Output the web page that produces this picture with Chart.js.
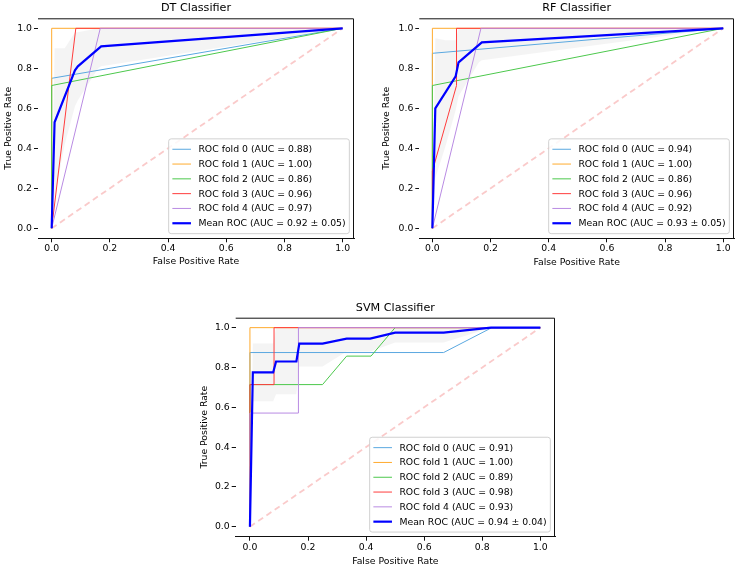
<!DOCTYPE html>
<html><head><meta charset="utf-8">
<script src="https://cdn.jsdelivr.net/npm/chart.js@4/dist/chart.umd.min.js"></script>
<style>
html,body{margin:0;padding:0;background:#fff;width:740px;height:574px;overflow:hidden}
.box{position:absolute}
canvas{display:block}
</style></head><body>
<div class="box" style="left:0px;top:0px;width:362px;height:272px"><canvas id="dt" width="362" height="272"></canvas></div>
<div class="box" style="left:374px;top:0px;width:366px;height:272px"><canvas id="rf" width="366" height="272"></canvas></div>
<div class="box" style="left:193px;top:296px;width:370px;height:278px"><canvas id="svm" width="370" height="278"></canvas></div>
<script>
// ---------------- DATA ----------------
const TICK_VALUES = [0, 0.2, 0.4, 0.6, 0.8, 1.0];
const TICK_LABELS = ['0.0', '0.2', '0.4', '0.6', '0.8', '1.0'];
const FOLD_NAMES = ['ROC fold 0', 'ROC fold 1', 'ROC fold 2', 'ROC fold 3', 'ROC fold 4'];
const CHANCE = [[0, 0], [1, 1]];

// DT Classifier
const DT_AUC = ['0.88', '1.00', '0.86', '0.96', '0.97'];
const DT_MEAN_AUC = '0.92 ± 0.05';
const DT_FOLD0 = [[0, 0], [0, 0.75], [1, 1]];
const DT_FOLD1 = [[0, 0], [0, 1], [1, 1]];
const DT_FOLD2 = [[0, 0], [0, 0.714], [1, 1]];
const DT_FOLD3 = [[0, 0], [0.083, 1], [1, 1]];
const DT_FOLD4 = [[0, 0], [0.167, 1], [1, 1]];
const DT_MEAN = [[0, 0], [0.01, 0.53], [0.08, 0.79], [0.09, 0.81], [0.17, 0.91], [1, 1]];
const DT_UPPER = [[0, 0], [0.01, 0.90], [0.045, 0.90], [0.08, 0.98], [0.09, 0.98], [0.16, 1], [1, 1]];
const DT_LOWER = [[0, 0], [0.01, 0.16], [0.045, 0.42], [0.08, 0.61], [0.09, 0.64], [0.16, 0.80], [0.17, 0.81], [1, 1]];

// RF Classifier
const RF_AUC = ['0.94', '1.00', '0.86', '0.96', '0.92'];
const RF_MEAN_AUC = '0.93 ± 0.05';
const RF_FOLD0 = [[0, 0], [0, 0.875], [1, 1]];
const RF_FOLD1 = [[0, 0], [0, 1], [1, 1]];
const RF_FOLD2 = [[0, 0], [0, 0.714], [1, 1]];
const RF_FOLD3 = [[0, 0], [0, 0.286], [0.083, 0.714], [0.083, 1], [1, 1]];
const RF_FOLD4 = [[0, 0], [0.167, 1], [1, 1]];
const RF_MEAN = [[0, 0], [0.01, 0.60], [0.08, 0.76], [0.09, 0.83], [0.17, 0.93], [1, 1]];
const RF_UPPER = [[0, 0], [0.01, 0.95], [0.045, 0.94], [0.08, 0.94], [0.09, 1], [1, 1]];
const RF_LOWER = [[0, 0], [0.01, 0.25], [0.045, 0.41], [0.08, 0.59], [0.09, 0.66], [0.16, 0.83], [0.17, 0.84], [1, 1]];

// SVM Classifier
const SVM_AUC = ['0.91', '1.00', '0.89', '0.98', '0.93'];
const SVM_MEAN_AUC = '0.94 ± 0.04';
const SVM_FOLD0 = [[0, 0], [0, 0.875], [0.667, 0.875], [0.833, 1], [1, 1]];
const SVM_FOLD1 = [[0, 0], [0, 1], [1, 1]];
const SVM_FOLD2 = [[0, 0], [0, 0.714], [0.25, 0.714], [0.333, 0.857], [0.417, 0.857], [0.5, 1], [1, 1]];
const SVM_FOLD3 = [[0, 0], [0, 0.714], [0.083, 0.714], [0.083, 1], [1, 1]];
const SVM_FOLD4 = [[0, 0], [0, 0.571], [0.167, 0.571], [0.167, 1], [1, 1]];
const SVM_MEAN = [[0, 0], [0.01, 0.775], [0.08, 0.775], [0.09, 0.83], [0.16, 0.83], [0.17, 0.92], [0.25, 0.92], [0.333, 0.945], [0.414, 0.945], [0.5, 0.975], [0.667, 0.975], [0.83, 1], [1, 1]];
const SVM_UPPER = [[0, 0], [0.01, 0.92], [0.08, 0.92], [0.09, 1], [1, 1]];
const SVM_LOWER = [[0, 0], [0.01, 0.63], [0.08, 0.63], [0.09, 0.665], [0.16, 0.665], [0.17, 0.805], [0.25, 0.805], [0.333, 0.88], [0.414, 0.88], [0.5, 0.925], [0.667, 0.925], [0.83, 1], [1, 1]];

// ---------------- STYLE ----------------
const FONT = '"DejaVu Sans", "Liberation Sans", sans-serif';
const TICK_SIZE = 9.3;
const TITLE_SIZE = 11.2;
const FOLD_COLORS = ['#5aa8e0', '#ffab2e', '#4cc84c', '#ff3c3c', '#b98be3'];
const MEAN_COLOR = '#0000ff';
const CHANCE_COLOR = 'rgba(240,90,90,0.32)';
const BAND_COLOR = 'rgba(128,128,128,0.085)';

Chart.defaults.font.family = FONT;
Chart.defaults.color = '#000';

const pts = a => a.map(([x, y]) => ({ x, y }));

const spinePlugin = {
  id: 'spines',
  afterDraw(chart) {
    const { ctx, chartArea: a } = chart;
    ctx.save();
    ctx.strokeStyle = '#111';
    ctx.lineWidth = 1;
    ctx.beginPath();
    ctx.moveTo(a.left, a.top + 0.5);
    ctx.lineTo(a.right - 0.5, a.top + 0.5);
    ctx.lineTo(a.right - 0.5, a.bottom);
    ctx.stroke();
    ctx.restore();
  }
};

const legendPlugin = {
  id: 'rocLegend',
  afterDraw(chart) {
    const { ctx, chartArea: a } = chart;
    const f = TICK_SIZE, rowH = 14.8, vpad = 3;
    const items = chart.data.datasets.filter(d => d.inLegend);
    ctx.save();
    ctx.font = f + 'px ' + FONT;
    const tw = Math.max(...items.map(d => ctx.measureText(d.label).width));
    const pad = 0.4 * f, hl = 2 * f, htp = 0.8 * f, axp = 0.5 * f;
    const w = pad + hl + htp + tw + pad;
    const h = items.length * rowH + 2 * vpad;
    const right = a.right - axp, bottom = a.bottom - axp;
    const left = right - w, top = bottom - h;
    ctx.beginPath();
    ctx.roundRect(left, top, w, h, 2.5);
    ctx.fillStyle = 'rgba(255,255,255,0.85)';
    ctx.fill();
    ctx.strokeStyle = '#cccccc';
    ctx.lineWidth = 0.9;
    ctx.stroke();
    items.forEach((d, i) => {
      const y = top + vpad + rowH * (i + 0.5);
      ctx.beginPath();
      ctx.moveTo(left + pad, y);
      ctx.lineTo(left + pad + hl, y);
      ctx.strokeStyle = d.borderColor;
      ctx.lineWidth = d.borderWidth;
      ctx.setLineDash([]);
      ctx.stroke();
      ctx.fillStyle = '#000';
      ctx.textBaseline = 'middle';
      ctx.textAlign = 'left';
      ctx.fillText(d.label, left + pad + hl + htp, y + 0.5);
    });
    ctx.restore();
  }
};

function makeChart(id, title, folds, aucs, mean, meanAuc, upper, lower, g) {
  const lh = TITLE_SIZE * 1.2, alh = TICK_SIZE * 1.2;
  const datasets = [
    { label: '', data: pts(upper), borderWidth: 0, pointRadius: 0, fill: 1, backgroundColor: BAND_COLOR, order: 100 },
    { label: '', data: pts(lower), borderWidth: 0, pointRadius: 0, fill: false, order: 100 }
  ];
  folds.forEach((f, i) => datasets.push({
    label: FOLD_NAMES[i] + ' (AUC = ' + aucs[i] + ')', data: pts(f), borderColor: FOLD_COLORS[i],
    borderWidth: 1, pointRadius: 0, fill: false, order: 50 - i, inLegend: true
  }));
  datasets.push({ label: '', data: pts(CHANCE), borderColor: CHANCE_COLOR, borderWidth: 1.8, borderDash: [6, 4], pointRadius: 0, fill: false, order: 20 });
  datasets.push({ label: 'Mean ROC (AUC = ' + meanAuc + ')', data: pts(mean), borderColor: MEAN_COLOR, borderWidth: 2.2, pointRadius: 0, fill: false, order: 1, inLegend: true });
  // reorder legend: folds then mean (already in order)
  const axisCommon = (isX) => ({
    type: 'linear',
    min: isX ? g.xmin : -0.05,
    max: isX ? g.xmax : 1.05,
    afterBuildTicks: s => { s.ticks = TICK_VALUES.map(v => ({ value: v })); },
    ticks: { callback: (v, i) => TICK_LABELS[i], font: { size: TICK_SIZE }, color: '#000', padding: isX ? 1 : 2, maxRotation: 0, autoSkip: false },
    grid: { drawOnChartArea: false, drawTicks: true, tickLength: 4, color: '#111', tickWidth: 1 },
    border: { display: isX, color: '#111', width: 1 },
  });
  const xs = axisCommon(true);
  xs.title = { display: true, text: 'False Positive Rate', font: { size: TICK_SIZE }, color: '#000', padding: { top: 0, bottom: g.cy + g.ch - g.xTitleY - alh / 2 } };
  xs.afterFit = s => { s.height = g.cy + g.ch - g.b; };
  const ys = axisCommon(false);
  ys.position = 'left';
  ys.title = { display: true, text: 'True Positive Rate', font: { size: TICK_SIZE }, color: '#000', padding: { top: g.yTitleX - g.cx - alh / 2, bottom: 0 } };
  ys.afterFit = s => { s.width = g.l - g.cx; };
  return new Chart(document.getElementById(id), {
    type: 'line',
    data: { datasets },
    options: {
      responsive: false,
      animation: false,
      devicePixelRatio: 1,
      layout: { padding: { left: 0, top: 0, bottom: 0, right: g.cx + g.cw - g.r } },
      elements: { line: { tension: 0 } },
      scales: { x: xs, y: ys },
      plugins: {
        legend: { display: false },
        tooltip: { enabled: false },
        title: {
          display: true, text: title, fullSize: false, color: '#000',
          font: { size: TITLE_SIZE, weight: 'normal' },
          padding: { top: g.titleY - g.cy - lh / 2, bottom: g.t - g.titleY - lh / 2 }
        }
      }
    },
    plugins: [spinePlugin, legendPlugin]
  });
}

makeChart('dt', 'DT Classifier', [DT_FOLD0, DT_FOLD1, DT_FOLD2, DT_FOLD3, DT_FOLD4], DT_AUC, DT_MEAN, DT_MEAN_AUC, DT_UPPER, DT_LOWER,
  { cx: 0, cy: 0, cw: 362, ch: 272, l: 38, r: 354, t: 18.3, b: 238.3, titleY: 8.5, xTitleY: 262, yTitleX: 8.3, xmin: -0.047, xmax: 1.039 });
makeChart('rf', 'RF Classifier', [RF_FOLD0, RF_FOLD1, RF_FOLD2, RF_FOLD3, RF_FOLD4], RF_AUC, RF_MEAN, RF_MEAN_AUC, RF_UPPER, RF_LOWER,
  { cx: 374, cy: 0, cw: 366, ch: 272, l: 419.3, r: 734, t: 18.3, b: 238.3, titleY: 8.3, xTitleY: 262.7, yTitleX: 386.7, xmin: -0.045, xmax: 1.037 });
makeChart('svm', 'SVM Classifier', [SVM_FOLD0, SVM_FOLD1, SVM_FOLD2, SVM_FOLD3, SVM_FOLD4], SVM_AUC, SVM_MEAN, SVM_MEAN_AUC, SVM_UPPER, SVM_LOWER,
  { cx: 193, cy: 296, cw: 370, ch: 278, l: 235.7, r: 555, t: 317.7, b: 536.7, titleY: 307.7, xTitleY: 561.7, yTitleX: 205, xmin: -0.049, xmax: 1.0505 });
</script>
</body></html>
